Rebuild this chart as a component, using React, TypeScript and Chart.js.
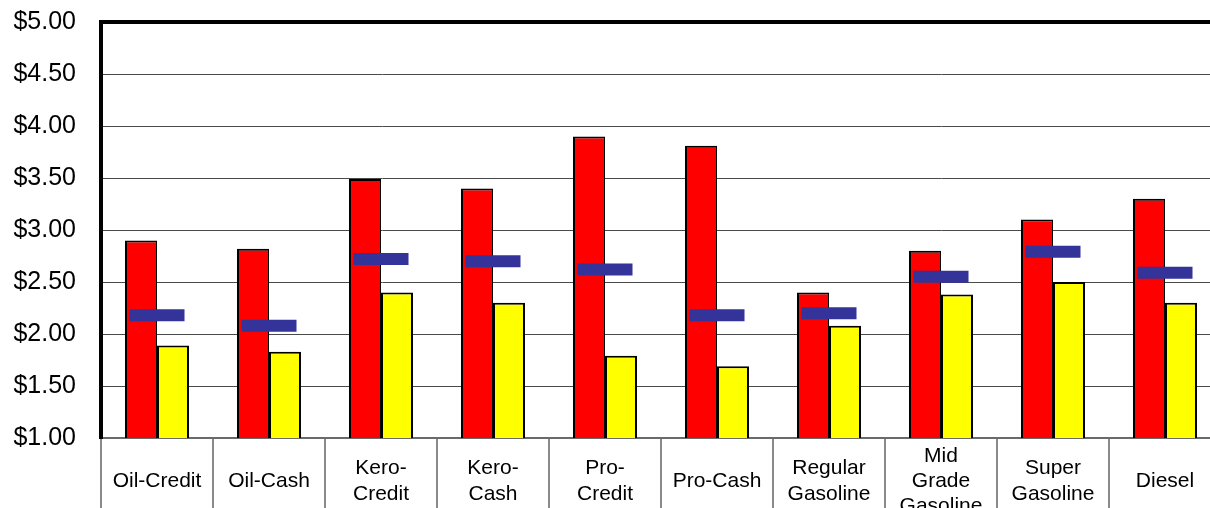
import React, { useEffect, useRef } from "react";
import { Chart, registerables } from "chart.js";

Chart.register(...registerables);

const categories: string[][] = [
  ["Oil-Credit"],
  ["Oil-Cash"],
  ["Kero-", "Credit"],
  ["Kero-", "Cash"],
  ["Pro-", "Credit"],
  ["Pro-Cash"],
  ["Regular", "Gasoline"],
  ["Mid", "Grade", "Gasoline"],
  ["Super", "Gasoline"],
  ["Diesel"],
];

const redValues = [2.9, 2.82, 3.49, 3.4, 3.9, 3.81, 2.4, 2.8, 3.1, 3.3];
const yellowValues = [1.89, 1.83, 2.4, 2.3, 1.79, 1.69, 2.08, 2.38, 2.5, 2.3];
const blueValues = [2.18, 2.08, 2.72, 2.7, 2.62, 2.18, 2.2, 2.55, 2.79, 2.59];

const yMin = 1;
const yMax = 5;
const yStep = 0.5;

const FONT = "'Liberation Sans', Arial, Helvetica, sans-serif";

export default function App() {
  const ref = useRef<HTMLCanvasElement | null>(null);

  useEffect(() => {
    if (!ref.current) return;
    const chart = new Chart(ref.current, {
      type: "bar",
      data: {
        labels: categories,
        datasets: [
          {
            type: "line",
            label: "Marker",
            data: blueValues,
            showLine: false,
            pointStyle: "line",
            pointRadius: 27.5,
            pointHoverRadius: 27.5,
            pointBorderWidth: 12,
            pointHoverBorderWidth: 12,
            borderColor: "#333399",
            backgroundColor: "#333399",
            clip: false,
            order: 0,
          } as any,
          {
            label: "High",
            data: redValues,
            backgroundColor: "#FF0000",
            borderColor: "#000000",
            borderWidth: { top: 2, left: 2, right: 1, bottom: 0 },
            borderSkipped: false,
            order: 1,
          } as any,
          {
            label: "Low",
            data: yellowValues,
            backgroundColor: "#FFFF00",
            borderColor: "#000000",
            borderWidth: { top: 2, left: 2, right: 2, bottom: 0 },
            borderSkipped: false,
            order: 1,
          } as any,
        ],
      },
      options: {
        responsive: false,
        animation: false,
        devicePixelRatio: 1,
        layout: { autoPadding: false, padding: { left: 0, top: 22, right: 19, bottom: 0 } },
        plugins: {
          legend: { display: false },
          tooltip: { enabled: false },
        },
        datasets: {
          bar: { barPercentage: 1, categoryPercentage: 64 / 112 },
        },
        scales: {
          x: {
            offset: true,
            grid: {
              offset: true,
              drawOnChartArea: false,
              drawTicks: true,
              tickLength: 91,
              color: "#8a8a8a",
              lineWidth: 2,
            },
            border: { display: true, color: "#6a6a6a", width: 2 },
            ticks: {
              color: "#000000",
              font: { family: FONT, size: 21, lineHeight: 1.2 },
              padding: -73,
              maxRotation: 0,
              minRotation: 0,
              autoSkip: false,
              crossAlign: "center",
            },
            afterFit: (scale: any) => {
              scale.height = 91;
              scale.paddingLeft = 0;
              scale.paddingRight = 0;
            },
          },
          y: {
            min: yMin,
            max: yMax,
            grid: {
              drawTicks: false,
              color: (ctx: any) => (ctx.tick && ctx.tick.value === yMax ? "#000000" : "#4a4a4a"),
              lineWidth: (ctx: any) => (ctx.tick && ctx.tick.value === yMax ? 4 : 1),
            },
            border: { display: true, color: "#000000", width: 4 },
            ticks: {
              stepSize: yStep,
              color: "#000000",
              padding: 25,
              font: { family: FONT, size: 25 },
              callback: (v: any) => "$" + Number(v).toFixed(2),
            },
            afterFit: (scale: any) => {
              scale.width = 101;
              scale.paddingTop = 0;
              scale.paddingBottom = 0;
            },
          },
        },
      },
    });
    return () => chart.destroy();
  }, []);

  return (
    <div
      style={{
        position: "fixed",
        left: 0,
        top: 0,
        width: 1210,
        height: 508,
        overflow: "hidden",
        background: "#ffffff",
      }}
    >
      <canvas ref={ref} width={1240} height={529} style={{ display: "block" }} />
    </div>
  );
}
